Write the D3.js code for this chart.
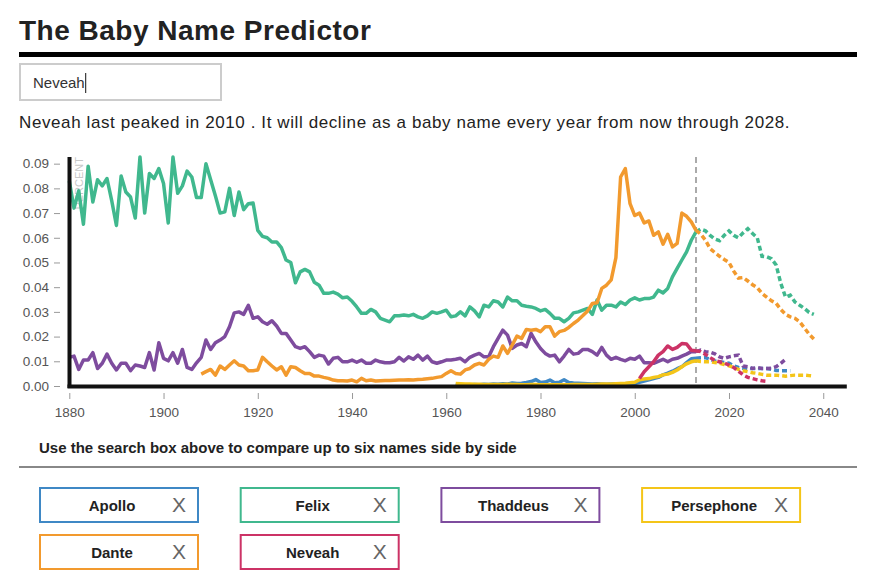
<!DOCTYPE html>
<html>
<head>
<meta charset="utf-8">
<script src="https://cdn.jsdelivr.net/npm/d3@7"></script>
<style>
body { margin: 0; background: #fff; }
text { font-family: "Liberation Sans", Arial, sans-serif; }
</style>
</head>
<body>
<div id="page"></div>
<script>
// names, colours and first year of data for each line
var names = ["Apollo", "Felix", "Thaddeus", "Persephone", "Dante", "Neveah"];
var colors = ["#3f88c5", "#40b88e", "#7e4c9e", "#f4c519", "#f29a2e", "#cc3366"];
var startYears = [1962, 1880, 1880, 1962, 1908, 2001];
var projStart = 2013;

// percent of babies
var apolloActual = [0.0003,0.0004,0.0005,0.0004,0.0006,0.0005,0.0007,0.0006,
  0.0008,0.0007,0.0009,0.0008,0.0012,0.001,0.0011,0.0014,0.0018,0.0026,
  0.0014,0.0016,0.0024,0.0013,0.0015,0.0025,0.0014,0.0012,0.0011,0.001,
  0.0009,0.0008,0.0009,0.0008,0.0007,0.0008,0.0009,0.0008,0.0009,0.001,
  0.001,0.0015,0.002,0.0025,0.003,0.0035,0.0045,0.0052,0.006,0.007,
  0.0078,0.0095,0.011,0.0112];
var felixActual = [0.083,0.072,0.079,0.0655,0.089,0.0745,0.0835,0.081,0.084,0.075,
  0.065,0.085,0.0785,0.0765,0.068,0.0927,0.070,0.086,0.084,0.088,
  0.082,0.066,0.0927,0.078,0.081,0.087,0.0846,0.0763,0.0763,0.090,
  0.0835,0.077,0.070,0.0705,0.080,0.069,0.0785,0.0714,0.0738,0.0741,
  0.063,0.0606,0.060,0.0583,0.0583,0.056,0.051,0.050,0.0418,0.0462,
  0.0472,0.0462,0.042,0.0408,0.0375,0.0375,0.038,0.0372,0.0357,0.036,
  0.0343,0.032,0.0294,0.0294,0.031,0.030,0.0274,0.0267,0.026,0.0284,
  0.0284,0.0287,0.0284,0.029,0.028,0.0274,0.0284,0.030,0.0294,0.030,
  0.0307,0.028,0.0284,0.030,0.0284,0.032,0.0304,0.028,0.0327,0.032,
  0.0345,0.034,0.032,0.036,0.0345,0.0345,0.0327,0.0323,0.032,0.0314,
  0.0304,0.031,0.0294,0.0274,0.0274,0.026,0.0274,0.0296,0.030,0.0307,
  0.0314,0.029,0.0348,0.0307,0.0327,0.0327,0.032,0.034,0.033,0.0348,
  0.0357,0.0348,0.0354,0.0354,0.036,0.0388,0.0377,0.0395,0.0442,0.0476,
  0.051,0.0543,0.059,0.0624];
var thaddeusActual = [0.0116,0.0121,0.0067,0.0105,0.0105,0.0135,0.0071,0.0092,0.0129,0.0092,
  0.0065,0.0092,0.0092,0.0062,0.0085,0.0081,0.0075,0.0135,0.0065,0.0175,
  0.0112,0.0102,0.0135,0.0092,0.0148,0.0075,0.0067,0.0094,0.0116,0.0186,
  0.0148,0.0175,0.0186,0.020,0.024,0.0296,0.030,0.029,0.0327,0.0274,
  0.028,0.026,0.025,0.0264,0.0243,0.0213,0.0213,0.0186,0.0159,0.0152,
  0.0159,0.0139,0.0116,0.0125,0.0121,0.0089,0.0112,0.0116,0.0098,0.0098,
  0.0105,0.0096,0.0105,0.0092,0.0092,0.0105,0.0098,0.0094,0.0094,0.0098,
  0.0116,0.0101,0.0118,0.0108,0.0125,0.0105,0.0121,0.0098,0.0092,0.0098,
  0.0105,0.0105,0.0108,0.0112,0.0098,0.0116,0.0125,0.0132,0.0118,0.0118,
  0.0159,0.0193,0.0226,0.0206,0.0152,0.0166,0.0172,0.0159,0.0213,0.0179,
  0.0152,0.0132,0.0121,0.0125,0.0098,0.0121,0.0148,0.0129,0.0132,0.0148,
  0.0148,0.0139,0.0125,0.0156,0.0125,0.0108,0.0116,0.0108,0.0102,0.0112,
  0.0108,0.0121,0.0094,0.0094,0.0092,0.010,0.0108,0.0098,0.0108,0.0112,
  0.0121,0.0129,0.0139,0.0139];
var persephoneActual = [0.001,0.0009,0.0008,0.0008,0.0007,0.0007,0.0006,0.0006,
  0.0006,0.0006,0.0006,0.0007,0.0006,0.0006,0.0005,0.0005,0.0006,0.0006,
  0.0005,0.0005,0.0005,0.0005,0.0005,0.0005,0.0005,0.0006,0.0006,0.0006,
  0.0006,0.0006,0.0007,0.0008,0.0008,0.0008,0.0009,0.001,0.0011,0.0013,
  0.0015,0.0025,0.0028,0.003,0.0035,0.0038,0.0045,0.0048,0.0055,0.0065,
  0.0078,0.009,0.0098,0.0102];
var danteActual = [0.0048,0.0058,
  0.0067,0.0044,0.0081,0.0067,0.0085,0.0102,0.0085,0.0081,0.0062,0.0062,
  0.0065,0.0116,0.0098,0.0081,0.0065,0.0078,0.0044,0.0078,0.0075,0.0062,
  0.0051,0.0051,0.004,0.004,0.0035,0.0031,0.0024,0.0021,0.0021,0.002,
  0.0024,0.0017,0.0031,0.0021,0.0024,0.002,0.0021,0.0022,0.0022,0.0023,
  0.0024,0.0024,0.0025,0.0024,0.0026,0.0027,0.0029,0.0031,0.0035,0.0038,
  0.0051,0.0062,0.0051,0.0048,0.0065,0.0071,0.0085,0.0092,0.0085,0.0108,
  0.0121,0.0116,0.0162,0.0132,0.0166,0.0202,0.0193,0.0229,0.0226,0.0229,
  0.022,0.024,0.024,0.0202,0.022,0.0225,0.0237,0.0253,0.0267,0.0285,
  0.0304,0.0334,0.0337,0.0395,0.0408,0.043,0.052,0.0846,0.088,0.0738,
  0.069,0.070,0.066,0.0668,0.061,0.0624,0.0574,0.0614,0.0563,0.0577,
  0.070,0.0687,0.0664,0.063];
var neveahActual = [0.003,0.0058,0.0078,0.0098,0.0125,0.0139,0.0162,0.0148,0.0156,0.0172,
  0.017,0.0145,0.0143];

// projections, from 2013 on
var apolloProj = [0.0112,0.0114,0.0115,0.0108,0.0101,0.0098,0.0095,0.0092,0.0082,0.0075,
  0.0072,0.0071,0.0071,0.0071,0.0071,0.0071,0.0068,0.0063,0.0062,0.0062,0.0062];
var felixProj = [0.0624,0.0635,0.0628,0.061,0.0595,0.0588,0.061,0.0628,0.061,0.060,
  0.062,0.0637,0.0617,0.060,0.0525,0.0523,0.0515,0.049,0.0415,0.036,
  0.0368,0.034,0.0327,0.0314,0.0298,0.029];
var thaddeusProj = [0.0139,0.0145,0.0139,0.0137,0.013,0.0118,0.0112,0.0118,0.0122,0.0125,
  0.0081,0.0078,0.0071,0.0075,0.0071,0.0071,0.0072,0.0078,0.0092,0.0108];
var persephoneProj = [0.0102,0.0099,0.0098,0.0098,0.0095,0.0092,0.0087,0.0082,0.0075,0.0067,
  0.0062,0.0058,0.0054,0.0051,0.0047,0.0044,0.0044,0.0044,0.0042,0.004,
  0.0042,0.0044,0.0044,0.0044,0.0042,0.004];
var danteProj = [0.063,0.0615,0.059,0.0556,0.054,0.0525,0.0512,0.050,0.0465,0.0437,
  0.0439,0.0425,0.041,0.0398,0.0375,0.036,0.0345,0.0335,0.031,0.029,
  0.028,0.0274,0.026,0.0235,0.021,0.019];
var neveahProj = [0.0143,0.0139,0.0128,0.0115,0.0103,0.0098,0.0093,0.0085,0.0075,0.006,
  0.0045,0.0035,0.003,0.0025,0.0021,0.0019];

var xTicks = [1880, 1900, 1920, 1940, 1960, 1980, 2000, 2020, 2040];
var yTicks = [0, 0.01, 0.02, 0.03, 0.04, 0.05, 0.06, 0.07, 0.08, 0.09];

var actuals = [apolloActual, felixActual, thaddeusActual, persephoneActual, danteActual, neveahActual];
var projections = [apolloProj, felixProj, thaddeusProj, persephoneProj, danteProj, neveahProj];

var series = names.map(function(n, i) {
    return {
        name: n,
        color: colors[i],
        actual: actuals[i].map(function(v, j) { return {year: startYears[i] + j, value: v}; }),
        proj: projections[i].map(function(v, j) { return {year: projStart + j, value: v}; })
    };
});

var width = 877, height = 582;
var svg = d3.select("#page").append("svg")
    .attr("width", width)
    .attr("height", height);

// header
svg.append("text")
    .text("The Baby Name Predictor")
    .attr("x", 19)
    .attr("y", 40)
    .style("font-size", "28px")
    .style("font-weight", "bold")
    .style("letter-spacing", "0.5px")
    .style("fill", "#222");

svg.append("rect")
    .attr("x", 19).attr("y", 52)
    .attr("width", 838).attr("height", 5)
    .style("fill", "#000");

// fake search box
svg.append("rect")
    .attr("x", 20).attr("y", 64)
    .attr("width", 201).attr("height", 36)
    .style("fill", "#fff")
    .style("stroke", "#ccc")
    .style("stroke-width", 2);

var typed = svg.append("text")
    .text("Neveah")
    .attr("x", 33)
    .attr("y", 88)
    .style("font-size", "15px")
    .style("fill", "#333");

var tw = typed.node().getComputedTextLength();
svg.append("line")
    .attr("x1", 34 + tw).attr("x2", 34 + tw)
    .attr("y1", 73).attr("y2", 93)
    .style("stroke", "#111")
    .style("stroke-width", 1);

svg.append("text")
    .text("Neveah last peaked in 2010 . It will decline as a baby name every year from now through 2028.")
    .attr("x", 19)
    .attr("y", 128)
    .style("font-size", "17px")
    .style("letter-spacing", "0.6px")
    .style("fill", "#222");

// chart
var x = d3.scaleLinear().domain([1880, 2045]).range([69.3, 846.8]);
var yMax = d3.max(series, function(s) {
    return Math.max(d3.max(s.actual, function(d) { return d.value; }), d3.max(s.proj, function(d) { return d.value; }));
});
var y = d3.scaleLinear().domain([0, yMax]).range([386, 157]);

var yAxis = svg.append("g")
    .attr("class", "y-axis")
    .attr("transform", "translate(60,0)")
    .call(d3.axisLeft(y).tickValues(yTicks).tickFormat(d3.format(".2f")).tickSize(6).tickPadding(5));

var xAxis = svg.append("g")
    .attr("class", "x-axis")
    .attr("transform", "translate(0,393)")
    .call(d3.axisBottom(x).tickValues(xTicks).tickFormat(d3.format("d")).tickSize(6).tickPadding(8));

svg.selectAll(".y-axis .domain, .x-axis .domain").remove();
svg.selectAll(".y-axis .tick line, .x-axis .tick line").style("stroke", "#999");
svg.selectAll(".y-axis .tick text, .x-axis .tick text")
    .style("font-family", "'Liberation Sans', Arial, sans-serif")
    .style("font-size", "13.5px")
    .style("fill", "#555");

svg.append("text")
    .text("PERCENT")
    .attr("transform", "translate(75," + y(yMax) + ") rotate(-90)")
    .attr("dy", "0.71em")
    .style("text-anchor", "end")
    .style("font-size", "11px")
    .style("fill", "#c8c8c8");

// today marker
svg.append("line")
    .attr("x1", x(projStart)).attr("x2", x(projStart))
    .attr("y1", y(yMax)).attr("y2", y(0))
    .style("stroke", "#aaa")
    .style("stroke-width", 2)
    .style("stroke-dasharray", "6,4");

var line = d3.line()
    .x(function(d) { return x(d.year); })
    .y(function(d) { return y(d.value); });

var groups = svg.selectAll(".name")
    .data(series)
    .enter().append("g")
    .attr("class", "name");

groups.append("path")
    .attr("d", function(d) { return line(d.proj); })
    .style("fill", "none")
    .style("stroke", function(d) { return d.color; })
    .style("stroke-width", 3.5)
    .style("stroke-dasharray", "5,3");

groups.append("path")
    .attr("d", function(d) { return line(d.actual); })
    .style("fill", "none")
    .style("stroke", function(d) { return d.color; })
    .style("stroke-width", 3.5)
    .style("stroke-linejoin", "round");

// axis lines on top
svg.append("line")
    .attr("x1", 69.5).attr("x2", 69.5)
    .attr("y1", y(yMax)).attr("y2", 388)
    .style("stroke", "#111")
    .style("stroke-width", 4);
svg.append("line")
    .attr("x1", 67.5).attr("x2", x(2045))
    .attr("y1", 386.5).attr("y2", 386.5)
    .style("stroke", "#111")
    .style("stroke-width", 4);

// compare section
svg.append("text")
    .text("Use the search box above to compare up to six names side by side")
    .attr("x", 39)
    .attr("y", 453)
    .style("font-family", "'Liberation Sans Narrow', 'Liberation Sans', sans-serif")
    .style("font-size", "15px")
    .style("font-weight", "bold")
    .style("fill", "#222");

svg.append("rect")
    .attr("x", 19).attr("y", 466)
    .attr("width", 838).attr("height", 2)
    .style("fill", "#888");

var boxW = 160, boxH = 36;
var chips = svg.selectAll(".chip")
    .data(series)
    .enter().append("g")
    .attr("class", "chip")
    .attr("transform", function(d, i) {
        return "translate(" + (39 + (i % 4) * 200.7) + "," + (487 + Math.floor(i / 4) * 47) + ")";
    });

chips.append("rect")
    .attr("x", 1).attr("y", 1)
    .attr("width", boxW - 2).attr("height", boxH - 2)
    .style("fill", "#fff")
    .style("stroke", function(d) { return d.color; })
    .style("stroke-width", 2);

chips.append("text")
    .text(function(d) { return d.name; })
    .attr("x", 73)
    .attr("y", 24)
    .style("text-anchor", "middle")
    .style("font-family", "'Liberation Sans Narrow', 'Liberation Sans', sans-serif")
    .style("font-size", "15px")
    .style("font-weight", "bold")
    .style("fill", "#222");

chips.append("text")
    .text("X")
    .attr("x", 140)
    .attr("y", 25)
    .style("text-anchor", "middle")
    .style("font-family", "'Liberation Sans Narrow', 'Liberation Sans', sans-serif")
    .style("font-size", "21px")
    .style("fill", "#666");
</script>
</body>
</html>
